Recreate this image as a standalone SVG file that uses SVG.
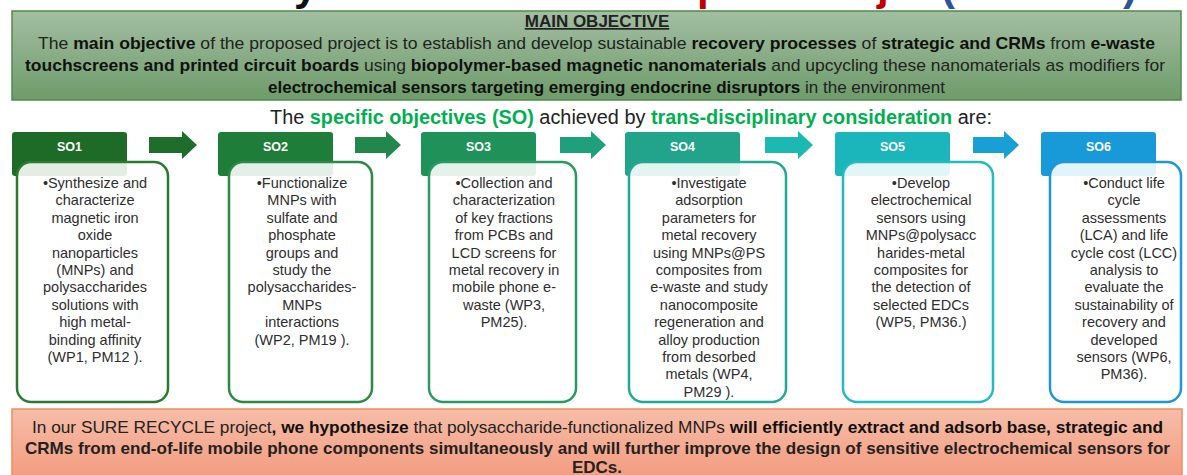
<svg xmlns="http://www.w3.org/2000/svg" width="1187" height="475" viewBox="0 0 1187 475">
<defs>
<linearGradient id="gMain" x1="0" y1="0" x2="0" y2="1"><stop offset="0" stop-color="#a3bea2"/><stop offset="1" stop-color="#6e9c6a"/></linearGradient>
<linearGradient id="gHyp" x1="0" y1="0" x2="0" y2="1"><stop offset="0" stop-color="#f6bda8"/><stop offset="1" stop-color="#f39b7e"/></linearGradient>
<style>
text{font-family:"Liberation Sans",Arial,sans-serif}
.b{font-weight:bold}
.main{font-size:17px;fill:#222}
.main .b{fill:#111}
.box{font-size:14.5px;fill:#2e2e2e;text-anchor:middle}
.tab{font-size:12.5px;font-weight:bold;fill:#fff;text-anchor:middle}
.card{fill:#ffffff;fill-opacity:0.88;stroke-width:2.5}
.frag{font-size:42px;font-weight:bold}
</style>
</defs>
<rect width="1187" height="475" fill="#fff"/>

<g id="title-fragment">
<text class="frag" x="294" y="0" fill="#111">y</text>
<text class="frag" x="697" y="0" fill="#c00000">p</text>
<text class="frag" x="877" y="0" fill="#c00000">j</text>
<text class="frag" x="941" y="0" fill="#2f5597">(</text>
<text class="frag" x="1123" y="0" fill="#2f5597">)</text>
</g>

<g id="main-objective">
<rect x="12" y="11" width="1169" height="89" fill="url(#gMain)" stroke="#4f8c4b" stroke-width="1.5"/>
<text class="main b" x="597" y="27" text-anchor="middle" text-decoration="underline">MAIN OBJECTIVE</text>
<text class="main" x="38" y="49" textLength="1117" lengthAdjust="spacingAndGlyphs">The <tspan class="b">main objective</tspan> of the proposed project is to establish and develop sustainable <tspan class="b">recovery processes</tspan> of <tspan class="b">strategic and CRMs</tspan> from <tspan class="b">e-waste</tspan></text>
<text class="main" x="25" y="71" textLength="1140" lengthAdjust="spacingAndGlyphs"><tspan class="b">touchscreens and printed circuit boards</tspan> using <tspan class="b">biopolymer-based magnetic nanomaterials</tspan> and upcycling these nanomaterials as modifiers for</text>
<text class="main" x="268" y="93" textLength="677" lengthAdjust="spacingAndGlyphs"><tspan class="b">electrochemical sensors targeting emerging endocrine disruptors</tspan> in the environment</text>
</g>

<g id="so-heading">
<text x="270" y="124" font-size="19.5" fill="#222" textLength="722" lengthAdjust="spacingAndGlyphs">The <tspan class="b" fill="#00b050">specific objectives (SO)</tspan> achieved by <tspan class="b" fill="#00b050">trans-disciplinary consideration</tspan> are:</text>
</g>

<g id="connectors">
<polygon fill="#1e6e2b" points="149,137 182,137 182,131 197,145 182,159 182,153 149,153"/>
<polygon fill="#22874a" points="355,137 386,137 386,131 401,145 386,159 386,153 355,153"/>
<polygon fill="#1ea07a" points="560,137 591,137 591,131 606,145 591,159 591,153 560,153"/>
<polygon fill="#1cb8b2" points="765,137 798,137 798,131 813,145 798,159 798,153 765,153"/>
<polygon fill="#179fd6" points="973,137 1004,137 1004,131 1019,145 1004,159 1004,153 973,153"/>
</g>

<g id="so1">
<rect x="12" y="132" width="115" height="44" rx="3" fill="#1d6b27"/>
<text class="tab" x="69.5" y="151">SO1</text>
<rect class="card" x="17" y="162" width="151" height="240" rx="14" stroke="#2a7a2f"/>
<text class="box" y="188"><tspan x="95">•Synthesize and</tspan><tspan x="95" dy="17.4">characterize</tspan><tspan x="95" dy="17.4">magnetic iron</tspan><tspan x="95" dy="17.4">oxide</tspan><tspan x="95" dy="17.4">nanoparticles</tspan><tspan x="95" dy="17.4">(MNPs) and</tspan><tspan x="95" dy="17.4">polysaccharides</tspan><tspan x="95" dy="17.4">solutions with</tspan><tspan x="95" dy="17.4">high metal-</tspan><tspan x="95" dy="17.4">binding affinity</tspan><tspan x="95" dy="17.4">(WP1, PM12 ).</tspan></text>
</g>

<g id="so2">
<rect x="218" y="132" width="115" height="44" rx="3" fill="#1f7d3a"/>
<text class="tab" x="275.5" y="151">SO2</text>
<rect class="card" x="229" y="162" width="143" height="240" rx="14" stroke="#2b8a43"/>
<text class="box" y="188"><tspan x="302">•Functionalize</tspan><tspan x="302" dy="17.4">MNPs with</tspan><tspan x="302" dy="17.4">sulfate and</tspan><tspan x="302" dy="17.4">phosphate</tspan><tspan x="302" dy="17.4">groups and</tspan><tspan x="302" dy="17.4">study the</tspan><tspan x="302" dy="17.4">polysaccharides-</tspan><tspan x="302" dy="17.4">MNPs</tspan><tspan x="302" dy="17.4">interactions</tspan><tspan x="302" dy="17.4">(WP2, PM19 ).</tspan></text>
</g>

<g id="so3">
<rect x="421" y="132" width="115" height="44" rx="3" fill="#1e9259"/>
<text class="tab" x="478.5" y="151">SO3</text>
<rect class="card" x="429" y="162" width="147" height="240" rx="14" stroke="#2a9a62"/>
<text class="box" y="188"><tspan x="504">•Collection and</tspan><tspan x="504" dy="17.4">characterization</tspan><tspan x="504" dy="17.4">of key fractions</tspan><tspan x="504" dy="17.4">from PCBs and</tspan><tspan x="504" dy="17.4">LCD screens for</tspan><tspan x="504" dy="17.4">metal recovery in</tspan><tspan x="504" dy="17.4">mobile phone e-</tspan><tspan x="504" dy="17.4">waste (WP3,</tspan><tspan x="504" dy="17.4">PM25).</tspan></text>
</g>

<g id="so4">
<rect x="625" y="132" width="115" height="44" rx="3" fill="#21a48a"/>
<text class="tab" x="682.5" y="151">SO4</text>
<rect class="card" x="629" y="162" width="157" height="240" rx="14" stroke="#22a992"/>
<text class="box" y="188"><tspan x="709">•Investigate</tspan><tspan x="709" dy="17.4">adsorption</tspan><tspan x="709" dy="17.4">parameters for</tspan><tspan x="709" dy="17.4">metal recovery</tspan><tspan x="709" dy="17.4">using MNPs@PS</tspan><tspan x="709" dy="17.4">composites from</tspan><tspan x="709" dy="17.4">e-waste and study</tspan><tspan x="709" dy="17.4">nanocomposite</tspan><tspan x="709" dy="17.4">regeneration and</tspan><tspan x="709" dy="17.4">alloy production</tspan><tspan x="709" dy="17.4">from desorbed</tspan><tspan x="709" dy="17.4">metals (WP4,</tspan><tspan x="709" dy="17.4">PM29 ).</tspan></text>
</g>

<g id="so5">
<rect x="835" y="132" width="115" height="44" rx="3" fill="#1ab6bb"/>
<text class="tab" x="892.5" y="151">SO5</text>
<rect class="card" x="843" y="162" width="150" height="240" rx="14" stroke="#22bcc0"/>
<text class="box" y="188"><tspan x="921">•Develop</tspan><tspan x="921" dy="17.4">electrochemical</tspan><tspan x="921" dy="17.4">sensors using</tspan><tspan x="921" dy="17.4">MNPs@polysacc</tspan><tspan x="921" dy="17.4">harides-metal</tspan><tspan x="921" dy="17.4">composites for</tspan><tspan x="921" dy="17.4">the detection of</tspan><tspan x="921" dy="17.4">selected EDCs</tspan><tspan x="921" dy="17.4">(WP5, PM36.)</tspan></text>
</g>

<g id="so6">
<rect x="1041" y="132" width="115" height="44" rx="3" fill="#189ad8"/>
<text class="tab" x="1098.5" y="151">SO6</text>
<rect class="card" x="1050" y="162" width="131" height="240" rx="14" stroke="#1f96d9"/>
<text class="box" y="188"><tspan x="1124">•Conduct life</tspan><tspan x="1124" dy="17.4">cycle</tspan><tspan x="1124" dy="17.4">assessments</tspan><tspan x="1124" dy="17.4">(LCA) and life</tspan><tspan x="1124" dy="17.4">cycle cost (LCC)</tspan><tspan x="1124" dy="17.4">analysis to</tspan><tspan x="1124" dy="17.4">evaluate the</tspan><tspan x="1124" dy="17.4">sustainability of</tspan><tspan x="1124" dy="17.4">recovery and</tspan><tspan x="1124" dy="17.4">developed</tspan><tspan x="1124" dy="17.4">sensors (WP6,</tspan><tspan x="1124" dy="17.4">PM36).</tspan></text>
</g>

<g id="hypothesis">
<rect x="12" y="409" width="1170" height="70" fill="url(#gHyp)" stroke="#f08c5c" stroke-width="1.5"/>
<text class="main" x="32" y="433" textLength="1131" lengthAdjust="spacingAndGlyphs">In our SURE RECYCLE project<tspan class="b">, we hypothesize</tspan> that polysaccharide-functionalized MNPs <tspan class="b">will efficiently extract and adsorb base, strategic and</tspan></text>
<text class="main b" x="25" y="454" textLength="1145" lengthAdjust="spacingAndGlyphs">CRMs from end-of-life mobile phone components simultaneously and will further improve the design of sensitive electrochemical sensors for</text>
<text class="main b" x="597" y="473" text-anchor="middle">EDCs.</text>
</g>
</svg>
